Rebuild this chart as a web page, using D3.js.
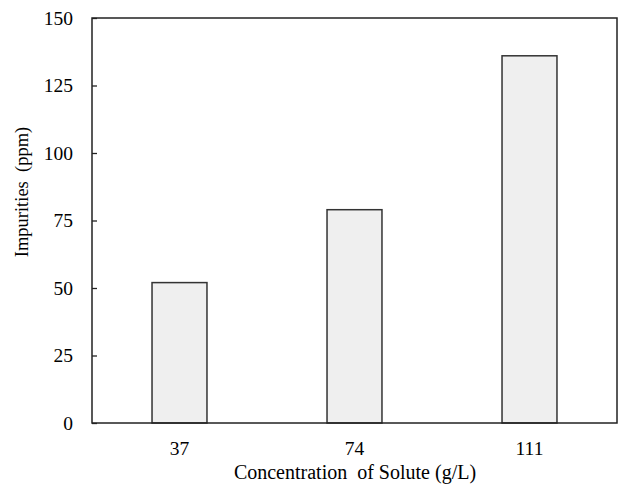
<!DOCTYPE html>
<html>
<head>
<meta charset="utf-8">
<script src="https://cdn.jsdelivr.net/npm/d3@7"></script>
<style>
  body { margin: 0; background: #fff; }
  svg text { font-family: "Liberation Serif", "Times New Roman", serif; fill: #000; }
</style>
</head>
<body>
<div id="chart"></div>
<script>
// chart data
const categories = ['37', '74', '111'];
const impurities = [52, 79, 136];
const yTicks = [0, 25, 50, 75, 100, 125, 150];

const width = 619, height = 486;
const margin = {top: 18, right: 2, bottom: 63, left: 92};
const plotW = width - margin.left - margin.right;
const plotH = height - margin.top - margin.bottom;

let svg = d3.select('#chart')
  .append('svg')
    .attr('width', width)
    .attr('height', height);

let g = svg.append('g')
  .attr('transform', 'translate(' + margin.left + ',' + margin.top + ')');

let x = d3.scaleBand().domain(categories).range([0, plotW]).padding(0);
let y = d3.scaleLinear().domain([0, 150]).range([plotH, 0]);
let barW = x.bandwidth() * 0.314;

// bars
g.append('g')
  .selectAll('rect')
  .data(impurities)
  .enter()
  .append('rect')
    .attr('x', (d, i) => x(categories[i]) + x.bandwidth() / 2 - barW / 2)
    .attr('y', (d) => y(d))
    .attr('width', barW)
    .attr('height', (d) => plotH - y(d))
    .attr('fill', '#efefef')
    .attr('stroke', '#333')
    .attr('stroke-width', 1.5);

// y axis, ticks pointing inward
let yAxis = g.append('g')
  .call(d3.axisRight(y).tickValues(yTicks).tickSize(5).tickFormat(''));
yAxis.select('.domain').remove();
yAxis.selectAll('line').attr('stroke', '#222').attr('stroke-width', 1.3);

g.append('g')
  .selectAll('text')
  .data(yTicks)
  .enter()
  .append('text')
    .attr('x', -19)
    .attr('y', (d) => y(d))
    .attr('dy', '0.35em')
    .attr('text-anchor', 'end')
    .style('font-size', '19.5px')
    .text((d) => d);

// x tick labels
g.append('g')
  .selectAll('text')
  .data(categories)
  .enter()
  .append('text')
    .attr('x', (d) => x(d) + x.bandwidth() / 2)
    .attr('y', plotH + 32)
    .attr('text-anchor', 'middle')
    .style('font-size', '19.5px')
    .text((d) => d);

// frame
g.append('rect')
  .attr('x', 0)
  .attr('y', 0)
  .attr('width', plotW)
  .attr('height', plotH)
  .attr('fill', 'none')
  .attr('stroke', '#222')
  .attr('stroke-width', 1.5);

// axis titles
svg.append('text')
  .attr('x', 355)
  .attr('y', 479)
  .attr('text-anchor', 'middle')
  .style('font-size', '20px')
  .style('white-space', 'pre')
  .text('Concentration  of Solute (g/L)');

svg.append('text')
  .attr('transform', 'translate(28,192) rotate(-90)')
  .attr('text-anchor', 'middle')
  .style('font-size', '18.5px')
  .style('white-space', 'pre')
  .text('Impurities  (ppm)');
</script>
</body>
</html>
